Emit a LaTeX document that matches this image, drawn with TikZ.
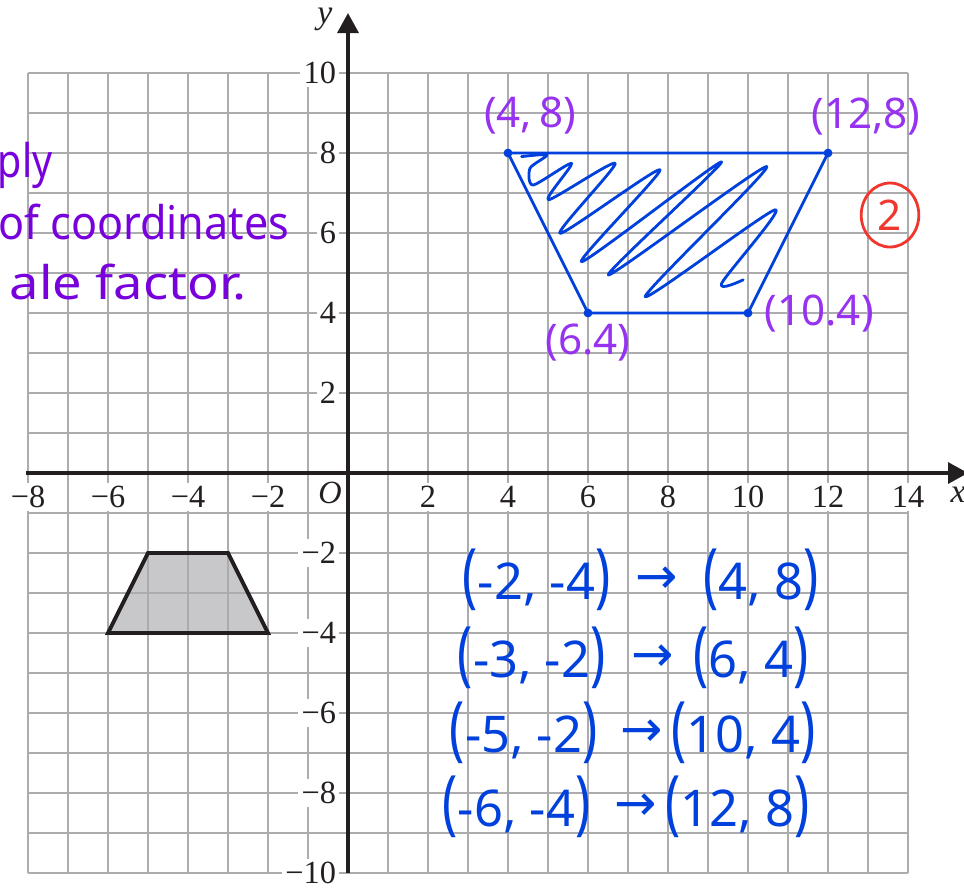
\documentclass[tikz,border=0pt]{standalone}
\usepackage{fontspec}
\setmainfont{Liberation Serif}
\newfontfamily\hand{Noto Sans}
\newfontfamily\arrowfont{DejaVu Sans}
\usepackage{graphicx}
\usetikzlibrary{arrows.meta,shapes.geometric}
\definecolor{gridgray}{RGB}{172,172,175}
\definecolor{shadegray}{RGB}{200,200,203}
\definecolor{axisblack}{RGB}{35,31,32}
\definecolor{inkblue}{RGB}{0,64,220}
\definecolor{inkpurple}{RGB}{150,50,240}
\definecolor{inkviolet}{RGB}{120,0,220}
\definecolor{inkred}{RGB}{240,55,45}
\newcommand\tallp[1]{\scalebox{1}[1.4]{#1}}
\begin{document}
\begin{tikzpicture}[x=0.5cm,y=0.5cm,
  gridline/.style={draw=gridgray,line width=0.9pt},
  axisline/.style={draw=axisblack,line width=1.4pt,-{Triangle[length=0.25cm,width=0.26cm]}},
  lab/.style={fill=white,inner sep=1.2pt,font=\fontsize{11.5pt}{13pt}\selectfont,text=axisblack},
  purplelab/.style={inner sep=0pt,text=inkpurple,font=\hand\fontsize{15pt}{17pt}\selectfont},
  bluerow/.style={inner sep=0pt,text=inkblue,font=\hand\fontsize{18pt}{20pt}\selectfont},
  notes/.style={inner sep=0pt,anchor=base east,text=inkviolet,font=\hand\fontsize{16.5pt}{18pt}\selectfont},
  vdot/.style={circle,fill=inkblue,inner sep=0pt,minimum size=0.11cm}]
\useasboundingbox (-8.7,-10.375) rectangle (15.4,11.825);
\begin{scope}
\clip (-8.7,-10.375) rectangle (15.4,11.825);
% given shape (filled below the grid)
\coordinate (A) at (-6,-4);
\coordinate (B) at (-5,-2);
\coordinate (C) at (-3,-2);
\coordinate (D) at (-2,-4);
\fill[shadegray] (A) -- (B) -- (C) -- (D) -- cycle;
% grid
\draw[gridline,step=0.5cm] (-8,-10) grid (14,10);
% tick labels
\foreach \x/\t in {-8/−8,-6/−6,-4/−4,-2/−2,2/2,4/4,6/6,8/8,10/10,12/12,14/14}
  \node[lab] (xl\x) at (\x,-0.6) {\t};
\foreach \y/\t in {10/10,8/8,6/6,4/4,2/2,-2/−2,-4/−4,-6/−6,-8/−8,-10/−10}
  \node[lab,anchor=east] (yl\y) at (-0.2,\y) {\t};
\node[lab,fill=none,font=\itshape\fontsize{11.5pt}{13pt}\selectfont] (O) at (-0.45,-0.5) {O};
% axes
\coordinate (xs) at (-8.05,0);
\coordinate (xe) at (15.5,0);
\coordinate (ys) at (0,-10);
\coordinate (ye) at (0,11.5);
\draw[axisline] (xs) -- (xe);
\draw[axisline] (ys) -- (ye);
\node[lab,fill=none,font=\itshape\fontsize{12pt}{13pt}\selectfont] (xlab) at (15.25,-0.55) {x};
\node[lab,fill=none,font=\itshape\fontsize{12pt}{13pt}\selectfont] (ylab) at (-0.58,11.35) {y};
% given trapezoid outline
\draw[axisblack,line width=1.4pt,line join=miter] (A) -- (B) -- (C) -- (D) -- cycle;
% image trapezoid
\coordinate (P1) at (4,8);
\coordinate (P2) at (12,8);
\coordinate (P3) at (10,4);
\coordinate (P4) at (6,4);
\draw[inkblue,line width=1pt,line join=round] (P1) -- (P2) -- (P3) -- (P4) -- cycle;
\foreach \p in {P1,P2,P3,P4} \node[vdot] (d\p) at (\p) {};
% scribble shading
\draw[inkblue,line width=1pt,line cap=round,line join=round] plot[smooth,tension=0.45] coordinates {
 (4.34,7.91) (4.97,7.95) (4.55,7.62) (4.63,7.2) (5.59,7.74) (5.01,6.83)
 (6.68,7.74) (5.3,5.99) (7.8,7.58) (5.84,5.28) (9.34,7.78) (6.51,4.95)
 (10.47,7.66) (7.43,4.41) (10.68,6.58) (9.34,4.74) (9.88,4.83)};
% vertex labels
\node[purplelab] (l48) at (4.55,8.93) {(4,\,8)};
\node[purplelab] (l128) at (12.95,8.9) {(12,8)};
\node[purplelab] (l64) at (6.0,3.25) {(6.4)};
\node[purplelab] (l104) at (11.78,3.98) {(10.4)};
% mark
\node[ellipse,draw=inkred,line width=1pt,minimum width=0.72cm,minimum height=0.8cm,inner sep=0pt,text=inkred,font=\hand\fontsize{15pt}{17pt}\selectfont] (mark) at (13.55,6.45) {2};
% notes on the left
\node[notes] (n1) at (-7.375,7.4) {\scalebox{0.85}[1]{ply}};
\node[notes] (n2) at (-1.45,5.83) {\scalebox{0.93}[1]{of coordinates}};
\node[notes] (n3) at (-2.525,4.33) {\scalebox{1.13}[1]{ale factor.}};
% mapping rows
\node[bluerow] (r1a) at (4.71,-2.675) {\tallp{(}-2, -4\tallp{)}};
\node[bluerow] (r1b) at (7.72,-2.675) {\arrowfont →};
\node[bluerow] (r1c) at (10.33,-2.675) {\tallp{(}4, 8\tallp{)}};
\node[bluerow] (r2a) at (4.59,-4.625) {\tallp{(}-3, -2\tallp{)}};
\node[bluerow] (r2b) at (7.61,-4.625) {\arrowfont →};
\node[bluerow] (r2c) at (10.08,-4.625) {\tallp{(}6, 4\tallp{)}};
\node[bluerow] (r3a) at (4.39,-6.5) {\tallp{(}-5, -2\tallp{)}};
\node[bluerow] (r3b) at (7.33,-6.5) {\arrowfont →};
\node[bluerow] (r3c) at (9.89,-6.5) {\tallp{(}10, 4\tallp{)}};
\node[bluerow] (r4a) at (4.21,-8.35) {\tallp{(}-6, -4\tallp{)}};
\node[bluerow] (r4b) at (7.18,-8.35) {\arrowfont →};
\node[bluerow] (r4c) at (9.74,-8.35) {\tallp{(}12, 8\tallp{)}};
\end{scope}
\end{tikzpicture}
\end{document}
